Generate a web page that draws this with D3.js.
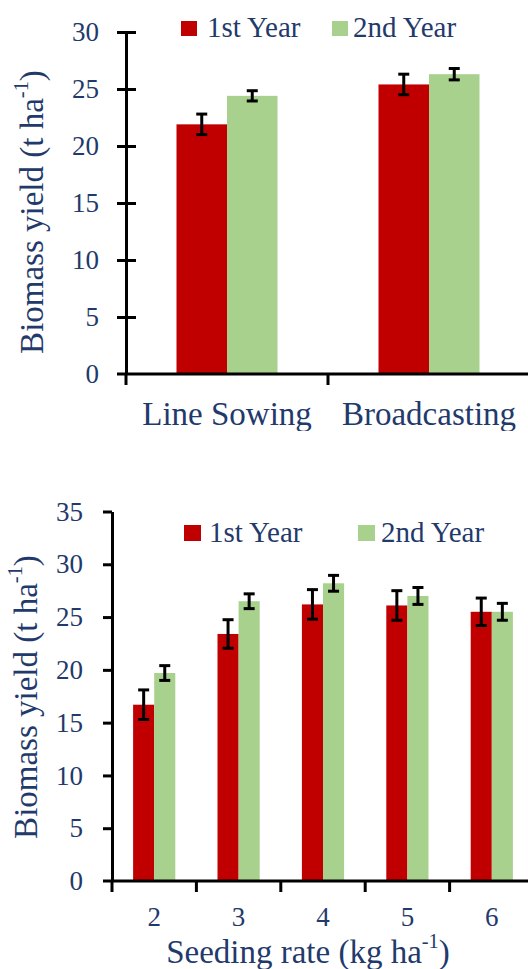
<!DOCTYPE html>
<html>
<head>
<meta charset="utf-8">
<script src="https://cdn.jsdelivr.net/npm/d3@7"></script>
<style>
  html, body { margin: 0; padding: 0; background: #fff; }
  svg { display: block; }
</style>
</head>
<body>
<script>
// Series shared by both panels
const seriesNames = ["1st Year", "2nd Year"];
const seriesColors = ["#c00000", "#a9d18e"];

// Panel A: sowing method
const methodCategories = ["Line Sowing", "Broadcasting"];
const methodYear1 = [21.9, 25.4];
const methodYear1Err = [0.9, 0.9];
const methodYear2 = [24.4, 26.3];
const methodYear2Err = [0.45, 0.5];
const methodTicks = [0, 5, 10, 15, 20, 25, 30];

// Panel B: seeding rate
const rateCategories = ["2", "3", "4", "5", "6"];
const rateYear1 = [16.7, 23.4, 26.2, 26.1, 25.5];
const rateYear1Err = [1.4, 1.35, 1.4, 1.4, 1.3];
const rateYear2 = [19.7, 26.5, 28.2, 27.0, 25.5];
const rateYear2Err = [0.7, 0.7, 0.75, 0.8, 0.8];
const rateTicks = [0, 5, 10, 15, 20, 25, 30, 35];

const FONT = "Liberation Serif";
const INK = "#1f3a6b";
const W = 528, H = 969;
const svg = d3.select("body").append("svg")
  .attr("width", W).attr("height", H)
  .attr("viewBox", `0 0 ${W} ${H}`)
  .attr("font-family", FONT);

svg.append("defs").append("clipPath").attr("id", "clipA")
  .append("rect").attr("x", 0).attr("y", 0).attr("width", W).attr("height", 431);

function rows(cats, v1, e1, v2, e2) {
  return cats.map((c, i) => ({
    cat: c,
    vals: [
      { s: seriesNames[0], v: v1[i], e: e1[i] },
      { s: seriesNames[1], v: v2[i], e: e2[i] }
    ]
  }));
}

function unitLabel(sel, main, size) {
  sel.attr("font-family", FONT).attr("fill", INK).attr("font-size", size);
  sel.append("tspan").text(main);
  sel.append("tspan").attr("font-size", size * 0.62).attr("dy", "-0.75em").text("-1");
  sel.append("tspan").attr("dy", "0.465em").text(")");
}

function panel(g, cfg) {
  const x0 = d3.scaleBand().domain(cfg.cats).range(cfg.xRange).padding(0);
  const x1 = d3.scaleBand().domain(seriesNames).range([0, x0.bandwidth()])
    .paddingInner(0).paddingOuter(1);
  const y = d3.scaleLinear().domain(cfg.yDomain).range(cfg.yRange);
  const color = d3.scaleOrdinal().domain(seriesNames).range(seriesColors);
  const data = rows(cfg.cats, cfg.v1, cfg.e1, cfg.v2, cfg.e2);

  // bars
  const grp = g.append("g").selectAll("g").data(data).join("g")
    .attr("transform", d => `translate(${x0(d.cat)},0)`);
  grp.selectAll("rect").data(d => d.vals).join("rect")
    .attr("x", d => x1(d.s))
    .attr("y", d => y(d.v))
    .attr("width", x1.bandwidth())
    .attr("height", d => y(0) - y(d.v))
    .attr("fill", d => color(d.s));

  // error bars
  const eb = grp.selectAll("g.err").data(d => d.vals).join("g").attr("class", "err")
    .attr("transform", d => `translate(${x1(d.s) + x1.bandwidth() / 2},0)`)
    .attr("stroke", "#000").attr("stroke-width", 3);
  eb.append("line").attr("x1", 0).attr("x2", 0)
    .attr("y1", d => y(d.v + d.e)).attr("y2", d => y(d.v - d.e));
  eb.append("line").attr("x1", -5.5).attr("x2", 5.5)
    .attr("y1", d => y(d.v + d.e)).attr("y2", d => y(d.v + d.e));
  eb.append("line").attr("x1", -5.5).attr("x2", 5.5)
    .attr("y1", d => y(d.v - d.e)).attr("y2", d => y(d.v - d.e));

  // y axis
  const yAxis = g.append("g")
    .attr("transform", `translate(${cfg.xRange[0]},0)`)
    .call(d3.axisLeft(y).tickValues(cfg.ticks).tickSizeInner(cfg.tickLeft)
      .tickSizeOuter(0).tickPadding(cfg.labelPad));
  yAxis.attr("font-family", FONT);
  yAxis.select(".domain").attr("stroke", "#000").attr("stroke-width", 3);
  yAxis.selectAll(".tick line").attr("stroke", "#000").attr("stroke-width", 3)
    .attr("x2", -cfg.tickLeft).attr("x1", cfg.tickRight);
  yAxis.selectAll(".tick text")
    .attr("font-size", cfg.tickFont)
    .attr("font-family", FONT)
    .attr("fill", INK);
  yAxis.select(".tick:first-of-type line").remove();

  // x axis
  const xAxis = g.append("g")
    .attr("transform", `translate(0,${cfg.yRange[0]})`)
    .call(d3.axisBottom(x0).tickSize(0).tickPadding(0));
  xAxis.attr("font-family", FONT);
  xAxis.select(".domain").attr("d", `M${cfg.xStart},0H${cfg.xRange[1] + 10}`)
    .attr("stroke", "#000").attr("stroke-width", 3);
  xAxis.selectAll(".tick text")
    .attr("font-size", cfg.catFont)
    .attr("font-family", FONT)
    .attr("fill", INK)
    .attr("dy", null)
    .attr("y", cfg.catBase);
  // category boundary ticks
  const bounds = cfg.cats.map(c => x0(c)).concat([x0.range()[1]]);
  xAxis.append("g").selectAll("line").data(bounds).join("line")
    .attr("x1", d => d).attr("x2", d => d)
    .attr("y1", 0).attr("y2", 11)
    .attr("stroke", "#000").attr("stroke-width", 3);

  // legend
  const lg = g.append("g");
  seriesNames.forEach((s, i) => {
    lg.append("rect")
      .attr("x", cfg.legend[i].rx).attr("y", cfg.legend[i].ry)
      .attr("width", cfg.legend[i].rs).attr("height", cfg.legend[i].rs - 1)
      .attr("fill", color(s));
    lg.append("text")
      .attr("x", cfg.legend[i].tx).attr("y", cfg.legend[i].ty)
      .attr("font-family", FONT).attr("fill", INK)
      .attr("font-size", cfg.legendFont)
      .text(s);
  });

  // y title
  const yt = g.append("text")
    .attr("transform", `translate(${cfg.yTitle[0]},${cfg.yTitle[1]}) rotate(-90)`)
    .attr("text-anchor", "middle");
  unitLabel(yt, "Biomass yield (t ha", cfg.titleFont);
}

// Panel A
panel(svg.append("g").attr("clip-path", "url(#clipA)"), {
  cats: methodCategories,
  v1: methodYear1, e1: methodYear1Err, v2: methodYear2, e2: methodYear2Err,
  ticks: methodTicks,
  xRange: [126, 530], xStart: 117,
  yDomain: [0, 30], yRange: [374, 32],
  tickLeft: 9, tickRight: 10, labelPad: 18,
  tickFont: 27, catFont: 33, catBase: 51,
  legendFont: 29,
  legend: [
    { rx: 181, ry: 21, rs: 16, tx: 207, ty: 37 },
    { rx: 332, ry: 21, rs: 16, tx: 353, ty: 37 }
  ],
  titleFont: 33, yTitle: [43, 212]
});

// Panel B
panel(svg.append("g"), {
  cats: rateCategories,
  v1: rateYear1, e1: rateYear1Err, v2: rateYear2, e2: rateYear2Err,
  ticks: rateTicks,
  xRange: [112, 534], xStart: 103,
  yDomain: [0, 35], yRange: [881, 511.5],
  tickLeft: 9, tickRight: 0, labelPad: 20,
  tickFont: 27, catFont: 27, catBase: 45,
  legendFont: 29,
  legend: [
    { rx: 184, ry: 525, rs: 17, tx: 209, ty: 542 },
    { rx: 358, ry: 525, rs: 17, tx: 381, ty: 542 }
  ],
  titleFont: 33, yTitle: [37, 697]
});

// x-axis title for panel B
const xt = svg.append("text")
  .attr("x", 308).attr("y", 963)
  .attr("text-anchor", "middle");
unitLabel(xt, "Seeding rate (kg ha", 33);
</script>
</body>
</html>
